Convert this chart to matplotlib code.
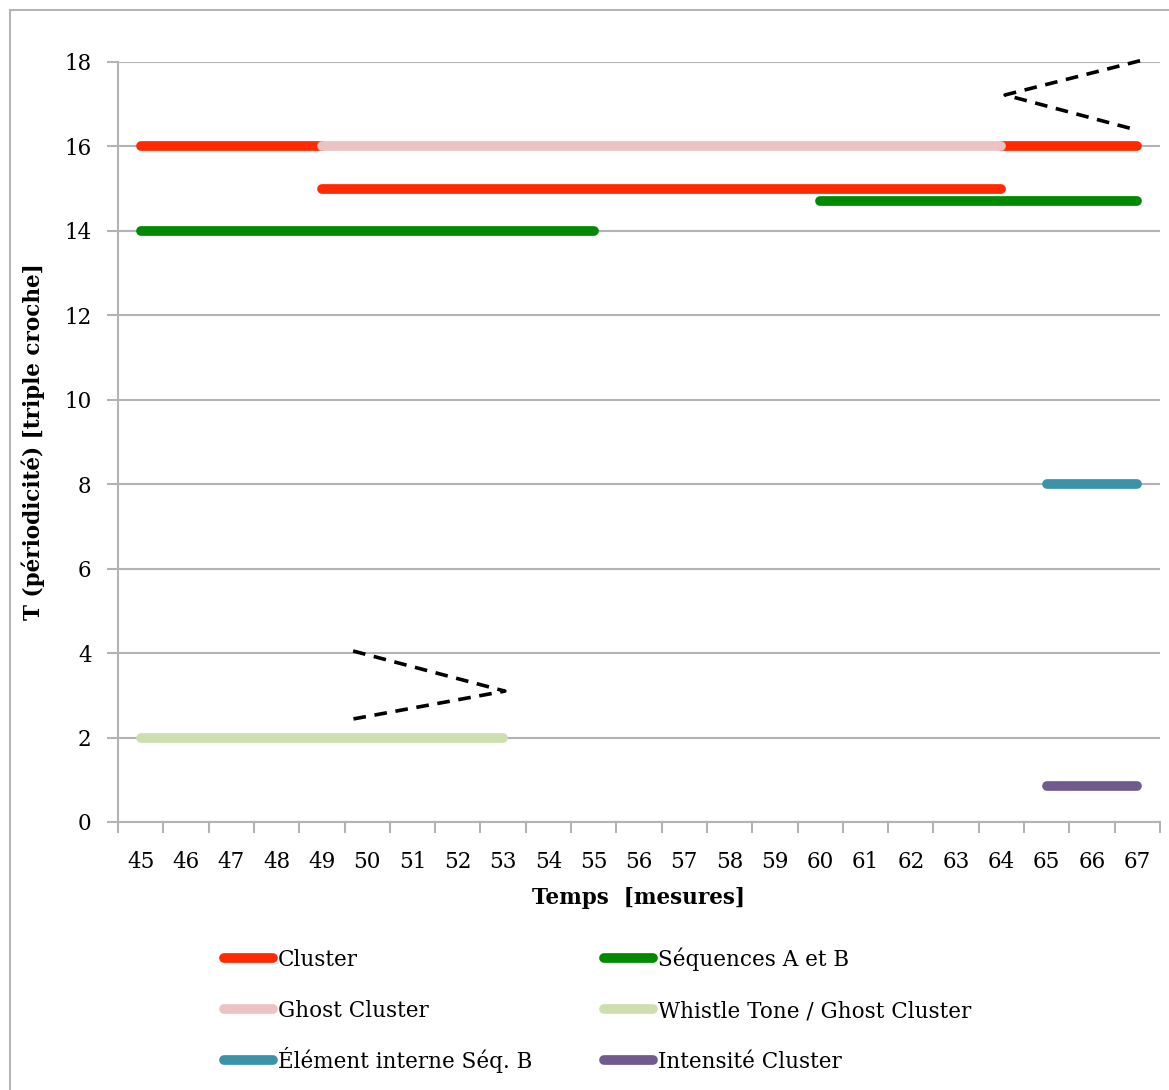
import matplotlib
matplotlib.use("Agg")
import matplotlib.pyplot as plt
from matplotlib.lines import Line2D
from matplotlib.patches import Rectangle

plt.rcParams["font.family"] = ["DejaVu Serif"]

# mesures (axe des catégories)
measures = list(range(45, 68))

# segments : valeur T, mesure de début, mesure de fin
cluster_T = [16, 15, 16]
cluster_start = [45, 49, 64]
cluster_end = [49, 64, 67]

ghost_T = [16]
ghost_start = [49]
ghost_end = [64]

seq_T = [14, 14.7]
seq_start = [45, 60]
seq_end = [55, 67]

whistle_T = [2]
whistle_start = [45]
whistle_end = [53]

element_T = [8]
element_start = [65]
element_end = [67]

intensity_T = [0.85]
intensity_start = [65]
intensity_end = [67]

# chevrons en pointillés (position sur l'axe des catégories, valeur T)
chevron_top_x = [22.06, 19.08, 21.98]
chevron_top_y = [18.03, 17.22, 16.39]
chevron_low_x = [4.69, 8.04, 4.69]
chevron_low_y = [4.05, 3.1, 2.44]

series = [
    ("Cluster", "#ff2a00", cluster_T, cluster_start, cluster_end),
    ("Ghost Cluster", "#ebc3c3", ghost_T, ghost_start, ghost_end),
    ("Séquences A et B", "#008a00", seq_T, seq_start, seq_end),
    ("Whistle Tone / Ghost Cluster", "#cddfae", whistle_T, whistle_start, whistle_end),
    ("Élément interne Séq. B", "#3a93a8", element_T, element_start, element_end),
    ("Intensité Cluster", "#715a8e", intensity_T, intensity_start, intensity_end),
]

W, H = 1169, 1090
fig = plt.figure(figsize=(W / 100, H / 100), dpi=100)
ax = fig.add_axes([118 / W, 1 - 822 / H, (1160 - 118) / W, (822 - 62) / H])

# cadre extérieur
fig.patches.append(Rectangle((10 / W, -0.1), 1.2, 1 - 10 / H + 0.1,
                             transform=fig.transFigure, fill=False,
                             edgecolor="#b5b5b5", linewidth=1.5))

grid_color = "#b3b3b3"
lw = 7
colors = {}
for name, color, ys, starts, ends in series:
    colors[name] = color
    for y, s, e in zip(ys, starts, ends):
        xs = [measures.index(s), measures.index(e)]
        ax.plot(xs, [y, y], color=color, linewidth=lw,
                solid_capstyle="round", zorder=3)

for cx, cy in [(chevron_top_x, chevron_top_y), (chevron_low_x, chevron_low_y)]:
    ax.plot(cx, cy, color="black", linewidth=2.6, dashes=(3.5, 2.4),
            zorder=4, clip_on=False)

ax.set_xlim(-0.5, len(measures) - 0.5)
ax.set_ylim(0, 18)
ax.set_yticks(range(0, 19, 2))
ax.set_xticks(range(len(measures)))
ax.set_xticklabels([str(m) for m in measures])
ax.set_xticks([i - 0.5 for i in range(len(measures) + 1)], minor=True)
ax.tick_params(axis="x", which="major", length=0, pad=21, labelsize=15.5)
ax.tick_params(axis="x", which="minor", length=8, width=1.5, color=grid_color)
ax.tick_params(axis="y", length=8, width=1.5, color=grid_color, pad=11,
               labelsize=15.5)
ax.yaxis.grid(True, color=grid_color, linewidth=1.5)
ax.set_axisbelow(True)
for side in ["top", "right"]:
    ax.spines[side].set_visible(False)
for side in ["left", "bottom"]:
    ax.spines[side].set_color(grid_color)
    ax.spines[side].set_linewidth(1.5)

ax.set_xlabel("Temps  [mesures]", fontsize=15.5, fontweight="bold", labelpad=10)
ax.set_ylabel("T (périodicité) [triple croche]", fontsize=15.5,
              fontweight="bold", labelpad=14)

# légende sur deux colonnes
names = [s[0] for s in series]
columns = [([names[0], names[1], names[4]], 220),
           ([names[2], names[3], names[5]], 600)]
for col, x0 in columns:
    for row, name in enumerate(col):
        yp = 1 - (958 + 51 * row) / H
        fig.add_artist(Line2D([(x0 + 4) / W, (x0 + 53) / W], [yp, yp],
                              transform=fig.transFigure, color=colors[name],
                              linewidth=lw, solid_capstyle="round"))
        fig.text((x0 + 58) / W, yp - 8 / H, name, fontsize=15.5,
                 va="baseline", ha="left")

fig.savefig("out.png", dpi=100)
